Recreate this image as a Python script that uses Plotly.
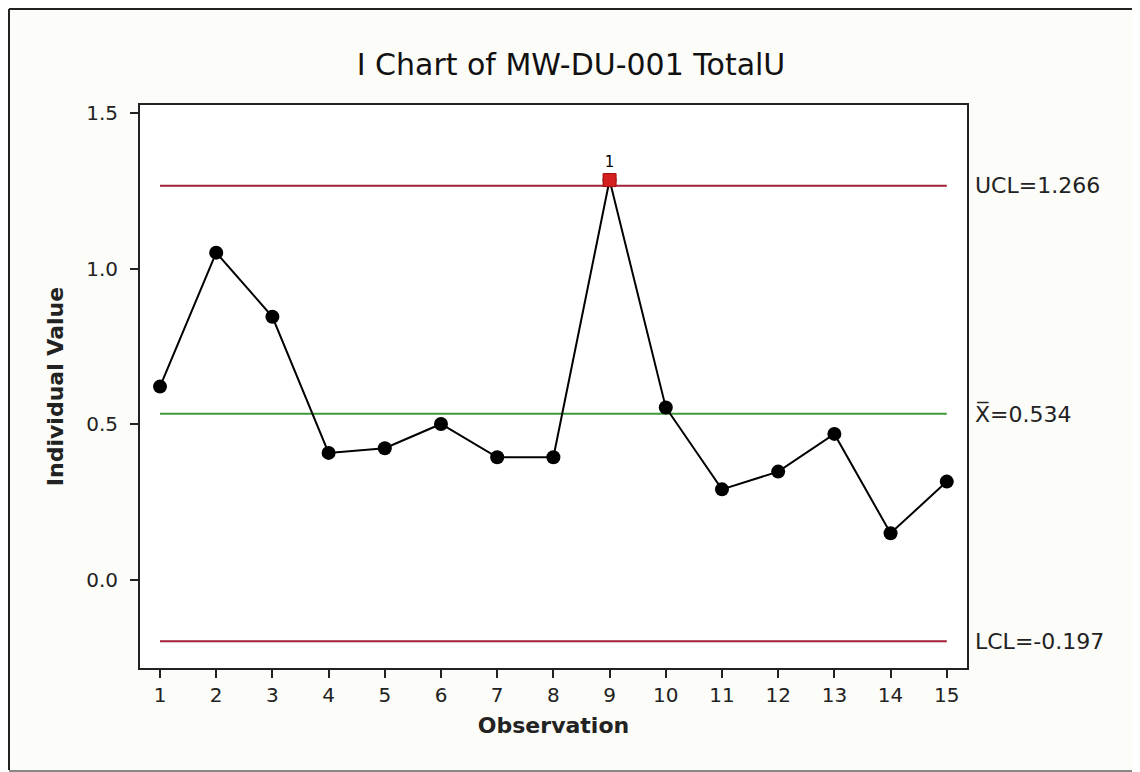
import plotly.graph_objects as go

observations = list(range(1, 16))
values = [0.621, 1.051, 0.845, 0.408, 0.423, 0.501, 0.394, 0.394,
          1.284, 0.554, 0.291, 0.348, 0.469, 0.150, 0.316]
ucl = 1.266
center = 0.534
lcl = -0.197
flagged_obs = [9]
flagged_vals = [1.284]
flag_labels = ["1"]
y_ticks = [0.0, 0.5, 1.0, 1.5]

FONT = "DejaVu Sans"
RED = "#a3203a"
GREEN = "#3c9a3c"

# page offset of the figure inside the browser body
OFF = 8
L, R, T, B = 140 - OFF, 1140 - 967 + OFF, 105 - OFF, 772 - 668 + OFF
PW, PH = 1140 - L - R, 772 - T - B

fig = go.Figure()

for val, col in [(ucl, RED), (center, GREEN), (lcl, RED)]:
    fig.add_trace(go.Scatter(x=[observations[0], observations[-1]], y=[val, val],
                             mode="lines", line=dict(color=col, width=2),
                             hoverinfo="skip", showlegend=False))

fig.add_trace(go.Scatter(x=observations, y=values, mode="lines+markers",
                         line=dict(color="black", width=2),
                         marker=dict(symbol="circle", size=14, color="black"),
                         showlegend=False))

fig.add_trace(go.Scatter(x=flagged_obs, y=flagged_vals, mode="markers+text",
                         marker=dict(symbol="square", size=13, color="#d42020",
                                     line=dict(color="#a01010", width=1)),
                         text=flag_labels, textposition="top center",
                         textfont=dict(family=FONT, size=15, color="black"),
                         showlegend=False))

labels = [(ucl, "UCL=1.266"), (center, "X\u0305=0.534"), (lcl, "LCL=-0.197")]
for val, txt in labels:
    fig.add_annotation(x=1.0, xref="paper", xshift=6, y=val, yref="y",
                       text=txt, showarrow=False, xanchor="left", yanchor="middle",
                       font=dict(family=FONT, size=22, color="#222222"))

# outer frame (figure px -> paper coords)
def px_x(p):
    return (p - L) / PW

def px_y(p):
    return (772 - B - p) / PH

frame_lines = [
    (px_x(1), px_y(1), px_x(1), px_y(762), "#222222"),     # left
    (px_x(1), px_y(1), px_x(1160), px_y(1), "#222222"),    # top
    (px_x(1), px_y(763), px_x(1160), px_y(763), "#888888"),  # bottom
]
for x0, y0, x1, y1, c in frame_lines:
    fig.add_shape(type="line", xref="paper", yref="paper",
                  x0=x0, y0=y0, x1=x1, y1=y1,
                  line=dict(color=c, width=2), layer="below")

fig.update_layout(
    width=1140, height=772,
    margin=dict(l=L, r=R, t=T, b=B),
    paper_bgcolor="#fcfcf8", plot_bgcolor="white",
    font=dict(family=FONT, color="#222222"),
    title=dict(text="I Chart of MW-DU-001 TotalU", x=(571 - OFF) / 1140, xanchor="center",
               y=1 - (64 - OFF) / 772, yanchor="middle",
               font=dict(family=FONT, size=30, color="#111111")),
)

fig.update_xaxes(range=[0.644, 15.36], tickvals=observations,
                 ticks="outside", ticklen=8, tickwidth=2, tickcolor="#222222",
                 showline=True, linecolor="#222222", linewidth=2, mirror=True,
                 showgrid=False, zeroline=False,
                 tickfont=dict(family=FONT, size=20),
                 title=dict(text="<b>Observation</b>", standoff=12,
                            font=dict(family=FONT, size=22)))
fig.update_yaxes(range=[-0.2825, 1.525], tickvals=y_ticks, tickformat=".1f",
                 ticks="outside", ticklen=8, tickwidth=2, tickcolor="#222222",
                 ticklabelstandoff=8,
                 showline=True, linecolor="#222222", linewidth=2, mirror=True,
                 showgrid=False, zeroline=False,
                 tickfont=dict(family=FONT, size=20),
                 title=dict(text="<b>Individual Value</b>", standoff=16,
                            font=dict(family=FONT, size=22)))

fig.write_html("out.html")
